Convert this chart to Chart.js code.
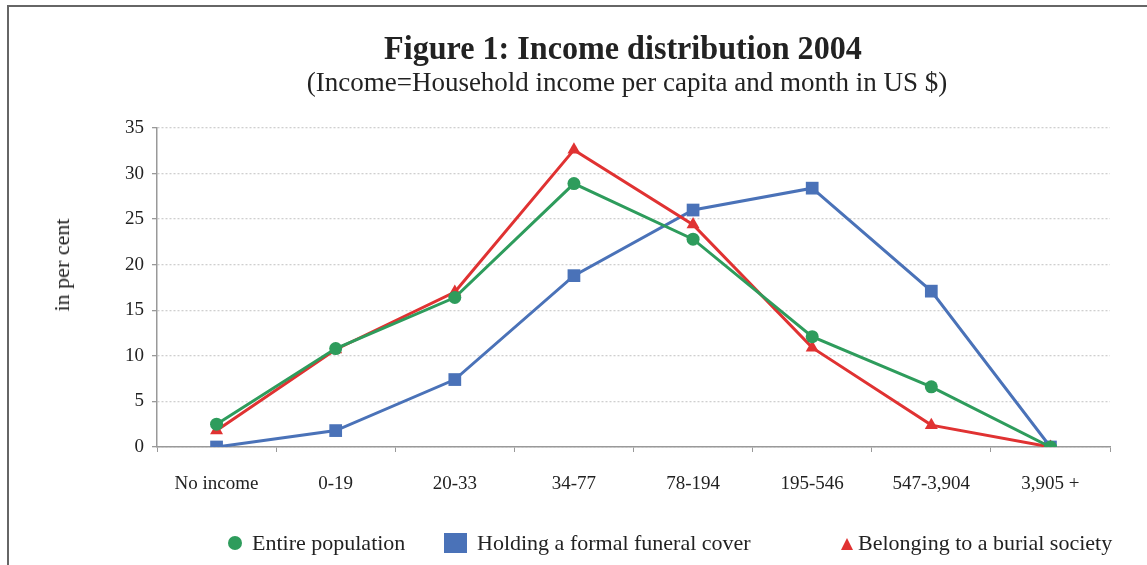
<!DOCTYPE html>
<html>
<head>
<meta charset="utf-8">
<script src="https://cdn.jsdelivr.net/npm/chart.js@4"></script>
<style>
  html, body { margin: 0; padding: 0; background: #fff; }
  #wrap { position: relative; width: 1147px; height: 565px; overflow: hidden; font-family: "Liberation Serif", "DejaVu Serif", serif; color: #222; }
  #frame { position: absolute; left: 7px; top: 5px; width: 1160px; height: 600px; border-left: 2px solid #666; border-top: 2px solid #666; }
  #cv { position: absolute; left: 0; top: 0; }
  #title { position: absolute; left: 123px; width: 1000px; top: 29px; text-align: center; font-weight: bold; font-size: 34px; transform: scaleX(0.945); }
  #subtitle { position: absolute; left: 127px; width: 1000px; top: 67px; text-align: center; font-size: 27px; }
  #ylab { position: absolute; left: 62px; top: 265px; transform: translate(-50%, -50%) rotate(-90deg); font-size: 22px; white-space: nowrap; }
  .leg { position: absolute; top: 530px; font-size: 22px; white-space: nowrap; display: flex; align-items: center; }
  .mk { display: inline-block; margin-right: 8px; }
</style>
</head>
<body>
<div id="wrap">
  <div id="frame"></div>
  <canvas id="cv" width="1147" height="565"></canvas>
  <div id="title"></div>
  <div id="subtitle"></div>
  <div id="ylab"></div>
  <div id="legend"></div>
</div>
<script>
const titleText = "Figure 1: Income distribution 2004";
const subtitleText = "(Income=Household income per capita and month in US $)";
const yAxisTitle = "in per cent";
const categories = ["No income", "0-19", "20-33", "34-77", "78-194", "195-546", "547-3,904", "3,905 +"];
const yTicks = [0, 5, 10, 15, 20, 25, 30, 35];
const seriesNames = ["Entire population", "Holding a formal funeral cover", "Belonging to a burial society"];
const entirePopulation = [2.5, 10.8, 16.4, 28.9, 22.8, 12.1, 6.6, 0];
const formalFuneralCover = [0, 1.8, 7.4, 18.8, 26.0, 28.4, 17.1, 0];
const burialSociety = [1.8, 10.7, 17.0, 32.6, 24.4, 10.9, 2.4, 0];

const colors = ["#2e9c5c", "#4a72b8", "#e03232"];
const styles = ["circle", "rect", "triangle"];

document.getElementById("title").textContent = titleText;
document.getElementById("subtitle").textContent = subtitleText;
document.getElementById("ylab").textContent = yAxisTitle;

// legend (HTML text)
const legendLeft = [228, 444, 841];
const legendEl = document.getElementById("legend");
seriesNames.forEach((n, i) => {
  const d = document.createElement("div");
  d.className = "leg";
  d.style.left = legendLeft[i] + "px";
  const m = document.createElement("span");
  m.className = "mk";
  if (i === 0) { m.style.cssText += "width:14px;height:14px;border-radius:50%;background:" + colors[0] + ";margin-right:10px;"; }
  if (i === 1) { m.style.cssText += "width:23px;height:20px;background:" + colors[1] + ";margin-right:10px;"; }
  if (i === 2) { m.style.cssText += "width:0;height:0;border-left:6px solid transparent;border-right:6px solid transparent;border-bottom:12px solid " + colors[2] + ";margin-right:5px;margin-top:2px;"; }
  d.appendChild(m);
  const t = document.createElement("span");
  t.textContent = n;
  d.appendChild(t);
  legendEl.appendChild(d);
});

const dataArrays = [entirePopulation, formalFuneralCover, burialSociety];
const datasets = dataArrays.map((arr, i) => ({
  label: seriesNames[i],
  data: arr,
  borderColor: colors[i],
  backgroundColor: colors[i],
  borderWidth: 3,
  pointStyle: styles[i],
  pointRadius: i === 1 ? 9 : (i === 2 ? 7.5 : 6.5),
  pointBorderWidth: 0,
  tension: 0,
  order: i === 1 ? 3 : (i === 2 ? 2 : 1)
}));

new Chart(document.getElementById("cv"), {
  type: "line",
  data: { labels: categories, datasets },
  options: {
    responsive: false,
    animation: false,
    devicePixelRatio: 1,
    layout: { padding: { left: 0, top: 128, right: 37, bottom: 0 } },
    plugins: { legend: { display: false }, title: { display: false }, tooltip: { enabled: false } },
    scales: {
      x: {
        offset: true,
        grid: { display: true, drawOnChartArea: false, color: "#999", tickLength: 5, offset: true },
        border: { color: "#999", width: 1.5 },
        ticks: { color: "#222", font: { family: "Liberation Serif", size: 19 }, padding: 21, maxRotation: 0, autoSkip: false },
        afterFit: (s) => { s.height = 118; }
      },
      y: {
        min: 0, max: 35,
        afterBuildTicks: (s) => { s.ticks = yTicks.map(v => ({ value: v })); },
        grid: { color: "#cfcfcf", lineWidth: 1.3, tickLength: 5, tickColor: "#999", tickBorderDash: [] },
        border: { color: "#999", width: 1.5, display: true, dash: [2, 2] },
        ticks: { color: "#222", font: { family: "Liberation Serif", size: 19 }, padding: 8 },
        afterFit: (s) => { s.width = 157; }
      }
    }
  }
});
</script>
</body>
</html>
